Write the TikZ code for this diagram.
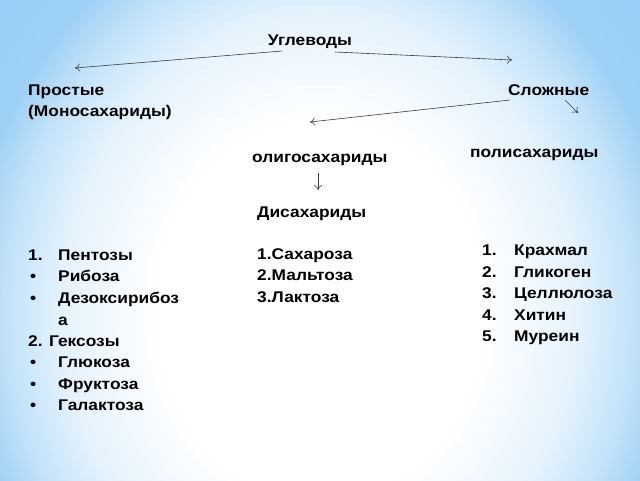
\documentclass[tikz,border=0pt]{standalone}
\usepackage{fontspec}
\setmainfont[FakeStretch=1.12]{Liberation Sans}
\usetikzlibrary{arrows.meta}
\definecolor{skyblue}{RGB}{135,198,244}
\definecolor{arrowgray}{RGB}{60,60,60}
\pgfdeclareradialshading{skyglow}{\pgfpoint{0bp}{0bp}}{%
  color(0bp)=(white); color(12bp)=(white); color(19bp)=(skyblue!22!white);
  color(23bp)=(skyblue!50!white); color(26bp)=(skyblue!80!white);
  color(30bp)=(skyblue!85!white); color(50bp)=(skyblue!75!white)}
\tikzset{
  lbl/.style={font=\bfseries\fontsize{15.5}{18}\selectfont,inner sep=0pt,anchor=base west},
  ctr/.style={font=\bfseries\fontsize{15.5}{18}\selectfont,inner sep=0pt,anchor=base},
  arr/.style={-{To[length=5pt,width=8pt]},arrowgray,line width=0.6pt}
}
\begin{document}
\begin{tikzpicture}[x=1pt,y=-1pt]
\useasboundingbox (0,0) rectangle (640,480);
\shade[shading=skyglow] (-20,-80) rectangle (660,700);
% top level
\node[ctr] (ugl) at (310,45) {Углеводы};
\node[lbl] (prost) at (28,95) {Простые};
\node[lbl] (mono) at (28,116) {(Моносахариды)};
\node[lbl] (slozh) at (508,95) {Сложные};
\node[lbl] (oligo) at (252,162) {олигосахариды};
\node[lbl] (poli) at (470,157) {полисахариды};
\node[lbl] (disah) at (257,217) {Дисахариды};
% arrow ends
\coordinate (uglL) at (282,51);
\coordinate (uglR) at (335,52);
\coordinate (prostT) at (75,68);
\coordinate (slozhT) at (512,60);
\coordinate (slozhL) at (510,100);
\coordinate (slozhR) at (565,100);
\coordinate (oligoT) at (310,122);
\coordinate (poliT) at (578,113);
\coordinate (oligoB) at (318,173);
\coordinate (disahT) at (318,190);
\draw[arr] (uglL) -- (prostT);
\draw[arr] (uglR) -- (slozhT);
\draw[arr] (slozhL) -- (oligoT);
\draw[arr] (slozhR) -- (poliT);
\draw[arr] (oligoB) -- (disahT);
% disaccharides
\node[lbl] (d1) at (257,259) {1.Сахароза};
\node[lbl] (d2) at (257,280) {2.Мальтоза};
\node[lbl] (d3) at (257,302) {3.Лактоза};
% polysaccharides
\foreach \i/\t/\y in {1/Крахмал/255,2/Гликоген/277,3/Целлюлоза/298,4/Хитин/320,5/Муреин/341}{
  \node[lbl] (pn\i) at (482,\y) {\i.};
  \node[lbl] (p\i) at (514,\y) {\t};
}
% monosaccharides
\node[lbl] (m1n) at (28,260) {1.};
\node[lbl] (m1) at (58,260) {Пентозы};
\node[lbl] (b1) at (30,281) {•};
\node[lbl] (m2) at (58,281) {Рибоза};
\node[lbl] (b2) at (30,303) {•};
\node[lbl] (m3) at (58,303) {Дезоксирибоз};
\node[lbl] (m3a) at (58,325) {а};
\node[lbl] (m4) at (28,346) {2. Гексозы};
\node[lbl] (b3) at (30,367) {•};
\node[lbl] (m5) at (58,367) {Глюкоза};
\node[lbl] (b4) at (30,389) {•};
\node[lbl] (m6) at (58,389) {Фруктоза};
\node[lbl] (b5) at (30,410) {•};
\node[lbl] (m7) at (58,410) {Галактоза};
\end{tikzpicture}
\end{document}
